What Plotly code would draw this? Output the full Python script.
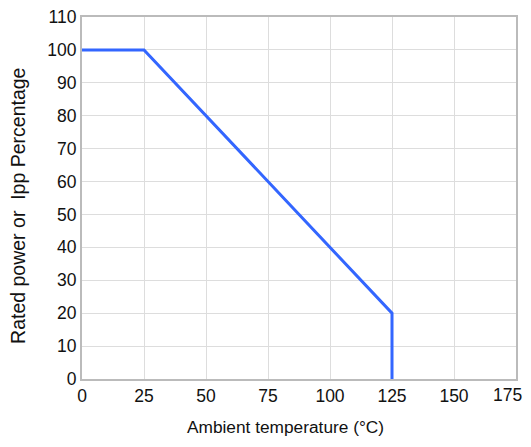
import plotly.graph_objects as go

temps = [0, 25, 125, 125]
power_pct = [100, 100, 20, 0]
x_ticks = [0, 25, 50, 75, 100, 125, 150, 175]
y_ticks = [0, 10, 20, 30, 40, 50, 60, 70, 80, 90, 100, 110]
x_title = "Ambient temperature (°C)"
y_title = "Rated power or \u00a0Ipp Percentage"

# last x tick label is drawn as an annotation so it stays inside the page
x_ticktext = [str(v) for v in x_ticks[:-1]] + [""]

fig = go.Figure()
fig.add_trace(go.Scatter(x=temps, y=power_pct, mode="lines",
                         line=dict(color="#3366ff", width=3), showlegend=False))

fig.update_layout(
    width=523, height=431,
    margin=dict(l=74, r=15, t=9, b=60, autoexpand=False),
    paper_bgcolor="white", plot_bgcolor="white",
    font=dict(family="Liberation Sans, Arial, sans-serif", size=17.5, color="#111"),
)
fig.update_xaxes(range=[0, 175], tickvals=x_ticks, ticktext=x_ticktext, showgrid=True,
                 gridcolor="#dddddd", gridwidth=1, showline=True, linecolor="#bbbbbb",
                 linewidth=2, mirror=True, zeroline=False, ticks="", tickfont=dict(size=17.5),
                 automargin=False, ticklabeloverflow="allow")
fig.update_yaxes(range=[0, 110], tickvals=y_ticks, showgrid=True, gridcolor="#dddddd",
                 gridwidth=1, showline=True, linecolor="#bbbbbb", linewidth=2, mirror=True,
                 zeroline=False, ticks="", tickfont=dict(size=17.5), automargin=False,
                 ticklabeloverflow="allow")

fig.add_annotation(text=str(x_ticks[-1]), xref="x", yref="paper", x=x_ticks[-1], y=-0.0442,
                   xanchor="right", yanchor="middle", xshift=8, showarrow=False,
                   font=dict(size=17.5, color="#111"))
fig.add_annotation(text=x_title, xref="paper", yref="paper", x=0.469, y=-0.1326,
                   xanchor="center", yanchor="middle", showarrow=False,
                   font=dict(size=17.3, color="#111"))
fig.add_annotation(text=y_title, xref="paper", yref="paper", x=-0.1475, y=0.478,
                   xanchor="center", yanchor="middle", showarrow=False, textangle=-90,
                   font=dict(size=19.5, color="#111"))

fig.write_html("out.html")
